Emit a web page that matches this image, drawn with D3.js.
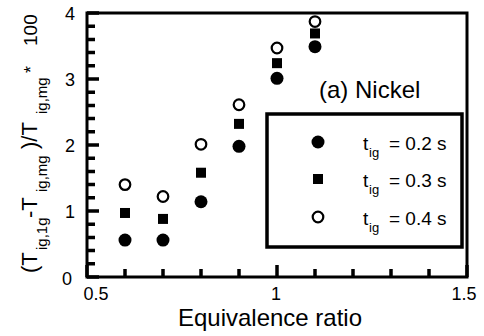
<!DOCTYPE html>
<html>
<head>
<meta charset="utf-8">
<script src="https://cdn.jsdelivr.net/npm/d3@7"></script>
<style>
  html, body { margin: 0; padding: 0; background: #fff; }
  svg { display: block; font-family: "Liberation Sans", Arial, sans-serif; }
</style>
</head>
<body>
<svg id="chart" width="484" height="336"></svg>
<script>
// Equivalence ratio values and the relative ignition-temperature difference for each ignition time
const phi = [0.6, 0.7, 0.8, 0.9, 1.0, 1.1];
const t02 = [0.56, 0.56, 1.14, 1.98, 3.01, 3.49];
const t03 = [0.97, 0.88, 1.58, 2.32, 3.24, 3.69];
const t04 = [1.40, 1.22, 2.01, 2.61, 3.47, 3.87];
const seriesNames = ["0.2", "0.3", "0.4"];
const seriesMarkers = ["circle", "square", "open"];
const xMajorTicks = [0.5, 1, 1.5];
const yMajorTicks = [0, 1, 2, 3, 4];

const svg = d3.select("#chart");
const plotLeft = 87, plotRight = 467, plotTop = 13, plotBottom = 277;
const frameW = 3;

const x = d3.scaleLinear().domain([0.5, 1.5]).range([plotLeft, plotRight]);
const y = d3.scaleLinear().domain([0, 4]).range([plotBottom, plotTop]);

const xMinor = d3.range(0.5, 1.5001, 0.1).map(v => +v.toFixed(2));
const yMinor = d3.range(0, 4.0001, 0.2).map(v => +v.toFixed(2));
const isMajor = (v, step) => Math.abs(v / step - Math.round(v / step)) < 1e-6;

// Plot frame
svg.append("rect")
  .attr("x", plotLeft).attr("y", plotTop)
  .attr("width", plotRight - plotLeft).attr("height", plotBottom - plotTop)
  .attr("fill", "none").attr("stroke", "#000").attr("stroke-width", frameW);

// Inward ticks as a single path: long on major values, short on minor ones
const tickPath = d3.path();
xMinor.forEach(d => {
  const len = isMajor(d, 0.5) ? 12 : 8;
  tickPath.moveTo(x(d), plotBottom);
  tickPath.lineTo(x(d), plotBottom - len);
});
yMinor.forEach(d => {
  const len = isMajor(d, 1) ? 12 : 8;
  tickPath.moveTo(plotLeft, y(d));
  tickPath.lineTo(plotLeft + len, y(d));
});
svg.append("path").attr("d", tickPath.toString())
  .attr("fill", "none").attr("stroke", "#000").attr("stroke-width", 3.5);

// Tick labels
svg.append("g").selectAll("text").data(xMajorTicks).join("text")
  .attr("x", d => x(d) + (d === 0.5 ? 9 : d === 1.5 ? -3 : -1))
  .attr("y", 300)
  .attr("text-anchor", "middle").style("font-size", "18px").attr("fill", "#000")
  .text(d => d3.format("")(d));
svg.append("g").selectAll("text").data(yMajorTicks).join("text")
  .attr("x", d => d === 0 ? 72 : 75)
  .attr("y", d => y(d) + (d === 0 ? 8 : 7))
  .attr("text-anchor", "end").style("font-size", "18px").attr("fill", "#000")
  .text(d => d3.format("d")(d));

// Markers
function drawMarker(g, kind, cx, cy) {
  if (kind === "circle") {
    g.append("circle").attr("cx", cx).attr("cy", cy).attr("r", 6.5).attr("fill", "#000");
  } else if (kind === "square") {
    g.append("rect").attr("x", cx - 5).attr("y", cy - 5).attr("width", 10).attr("height", 10).attr("fill", "#000");
  } else {
    g.append("circle").attr("cx", cx).attr("cy", cy).attr("r", 5.3)
      .attr("fill", "#fff").attr("stroke", "#000").attr("stroke-width", 2.2);
  }
}

const series = [t02, t03, t04];
const pts = svg.append("g");
series.forEach((vals, i) => {
  vals.forEach((v, j) => drawMarker(pts, seriesMarkers[i], x(phi[j]), y(v)));
});

// Panel title
svg.append("text").attr("x", 319).attr("y", 98)
  .style("font-size", "24px").attr("fill", "#000").text("(a) Nickel");

// Legend
const lg = svg.append("g");
lg.append("rect").attr("x", 267).attr("y", 114).attr("width", 195).attr("height", 133)
  .attr("fill", "#fff").attr("stroke", "#000").attr("stroke-width", 3.5);
const rowY = [142, 179, 217];
seriesNames.forEach((name, i) => {
  drawMarker(lg, seriesMarkers[i], 318, rowY[i]);
  const t = lg.append("text").attr("y", rowY[i] + 7.5)
    .style("font-size", "19px").attr("fill", "#000");
  t.append("tspan").attr("x", 363).text("t");
  t.append("tspan").attr("x", 369).attr("dy", 7).style("font-size", "13px").text("ig");
  t.append("tspan").attr("x", 389).attr("dy", -7).text(`= ${name} s`);
});

// Axis titles
svg.append("text").attr("x", 270).attr("y", 326).attr("text-anchor", "middle")
  .style("font-size", "24px").attr("fill", "#000").text("Equivalence ratio");

// Rotated y title; each piece starts at its own distance along the axis
const yl = svg.append("text")
  .attr("transform", "translate(37,0) rotate(-90)")
  .style("font-size", "22px").attr("fill", "#000");
const parts = [
  { s: "(T", at: 273, sub: false },
  { s: "ig,1g", at: 250, sub: true },
  { s: "-T", at: 218, sub: false },
  { s: "ig,mg", at: 192, sub: true },
  { s: ")/T", at: 149, sub: false },
  { s: "ig,mg", at: 114, sub: true },
  { s: "*", at: 73, sub: false, size: 18 },
  { s: "100", at: 46, sub: false, size: 19 }
];
parts.forEach(p => {
  const ts = yl.append("tspan").attr("x", -p.at).attr("y", p.sub ? 10 : 0).text(p.s);
  if (p.sub) ts.style("font-size", "15px");
  else if (p.size) ts.style("font-size", p.size + "px");
});
</script>
</body>
</html>
